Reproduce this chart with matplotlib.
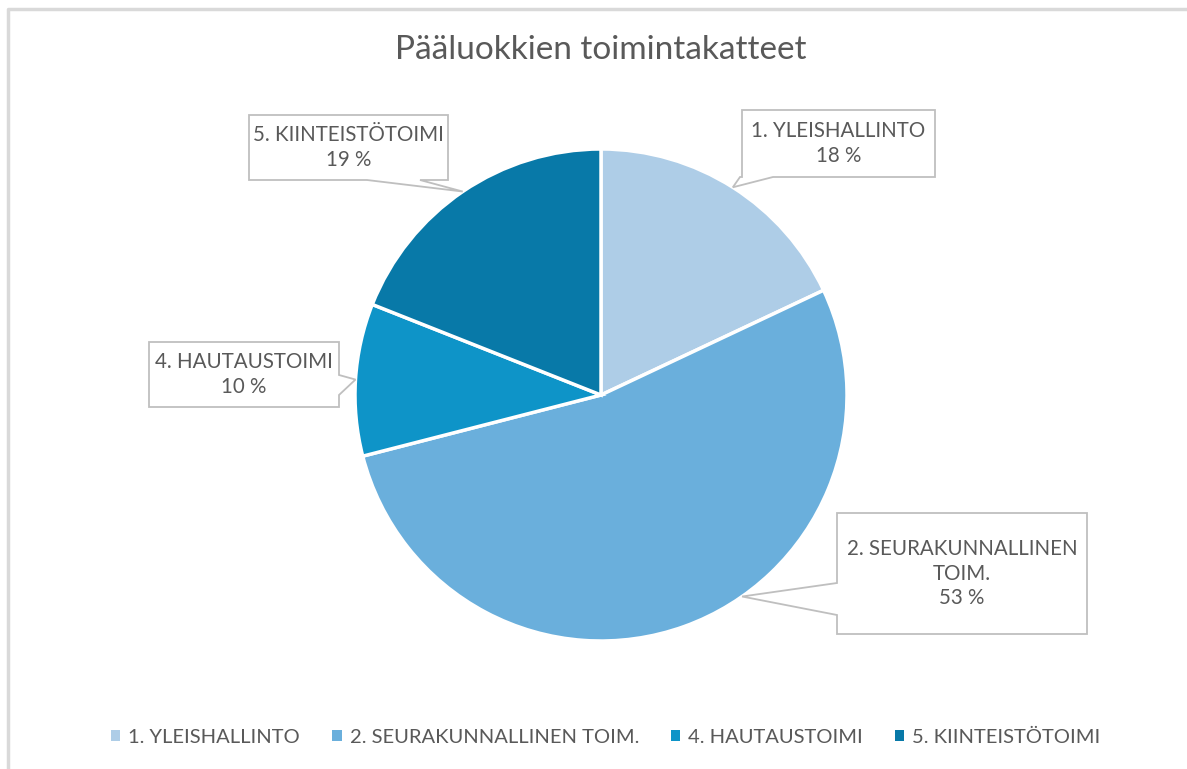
import numpy as np
import matplotlib.pyplot as plt
from matplotlib.patches import Polygon

# =========================================================
# DATA
# =========================================================
labels = ["1. YLEISHALLINTO", "2. SEURAKUNNALLINEN TOIM.", "4. HAUTAUSTOIMI", "5. KIINTEISTÖTOIMI"]
callout_labels = ["1. YLEISHALLINTO", "2. SEURAKUNNALLINEN\nTOIM.", "4. HAUTAUSTOIMI", "5. KIINTEISTÖTOIMI"]
shares = [18, 53, 10, 19]
colors = ["#AECDE7", "#6AAFDC", "#0E94C8", "#0879A8"]

# =========================================================
# LAYOUT (pixel space, y measured from top)
# =========================================================
W, H = 1187, 769
CX, CY, R = 601, 395, 246
# callout box (x0, y0, x1, y1), leader angle (deg clockwise from top), side of box for the leader
boxes = [(742, 110, 935, 177), (837, 513, 1087, 634), (149, 342, 339, 407), (249, 115, 448, 180)]
leader_angle = [32.4, 145.0, 273.6, 325.8]
leader_base = [("bottom", 740, 773), ("left", 583, 615), ("right", 375, 395), ("bottom", 367, 420)]
TEXT = "#595959"
EDGE = "#BFBFBF"

plt.rcParams['font.family'] = ['Lato', 'DejaVu Sans']

fig = plt.figure(figsize=(W / 100, H / 100), dpi=100)
ax = fig.add_axes([0, 0, 1, 1])


def Y(y):
    return H - y


wedges, _ = ax.pie(shares, colors=colors, startangle=90, counterclock=False,
                   center=(CX, Y(CY)), radius=R,
                   wedgeprops=dict(edgecolor="white", linewidth=2.5))
ax.set_xlim(0, W)
ax.set_ylim(0, H)
ax.set_aspect("equal")
ax.axis("off")

# chart frame (only left and top edges visible)
ax.plot([8, 8, W], [0, Y(9), Y(9)], color="#D9D9D9", lw=2.5, solid_capstyle="butt")

ax.text(CX, Y(50), "Pääluokkien toimintakatteet", ha="center", va="center",
        fontsize=24, color=TEXT)

# =========================================================
# CALLOUTS
# =========================================================
for i, (x0, y0, x1, y1) in enumerate(boxes):
    a = np.radians(leader_angle[i])
    tx, ty = CX + R * np.sin(a), CY - R * np.cos(a)
    side, b0, b1 = leader_base[i]
    if side == "bottom":
        pts = [(x0, y0), (x1, y0), (x1, y1), (b1, y1), (tx, ty), (b0, y1), (x0, y1)]
    elif side == "left":
        pts = [(x0, y0), (x1, y0), (x1, y1), (x0, y1), (x0, b1), (tx, ty), (x0, b0)]
    else:
        pts = [(x0, y0), (x1, y0), (x1, b0), (tx, ty), (x1, b1), (x1, y1), (x0, y1)]
    ax.add_patch(Polygon([(px, Y(py)) for px, py in pts], closed=True,
                         facecolor="white", edgecolor=EDGE, lw=1.3, zorder=3))
    ax.text((x0 + x1) / 2, Y((y0 + y1) / 2), f"{callout_labels[i]}\n{shares[i]} %",
            ha="center", va="center", fontsize=14.8, color=TEXT, linespacing=1.3, zorder=4)

# =========================================================
# LEGEND
# =========================================================
leg = ax.legend(wedges, labels, loc="center", bbox_to_anchor=(606 / W, 1 - 737 / H),
                ncol=4, frameon=False, fontsize=14.5, handlelength=0.45, handleheight=0.45,
                handletextpad=0.4, columnspacing=1.6, labelcolor=TEXT)
for h in leg.legend_handles:
    h.set_edgecolor("none")

fig.savefig("out.png", dpi=100, facecolor="white")
